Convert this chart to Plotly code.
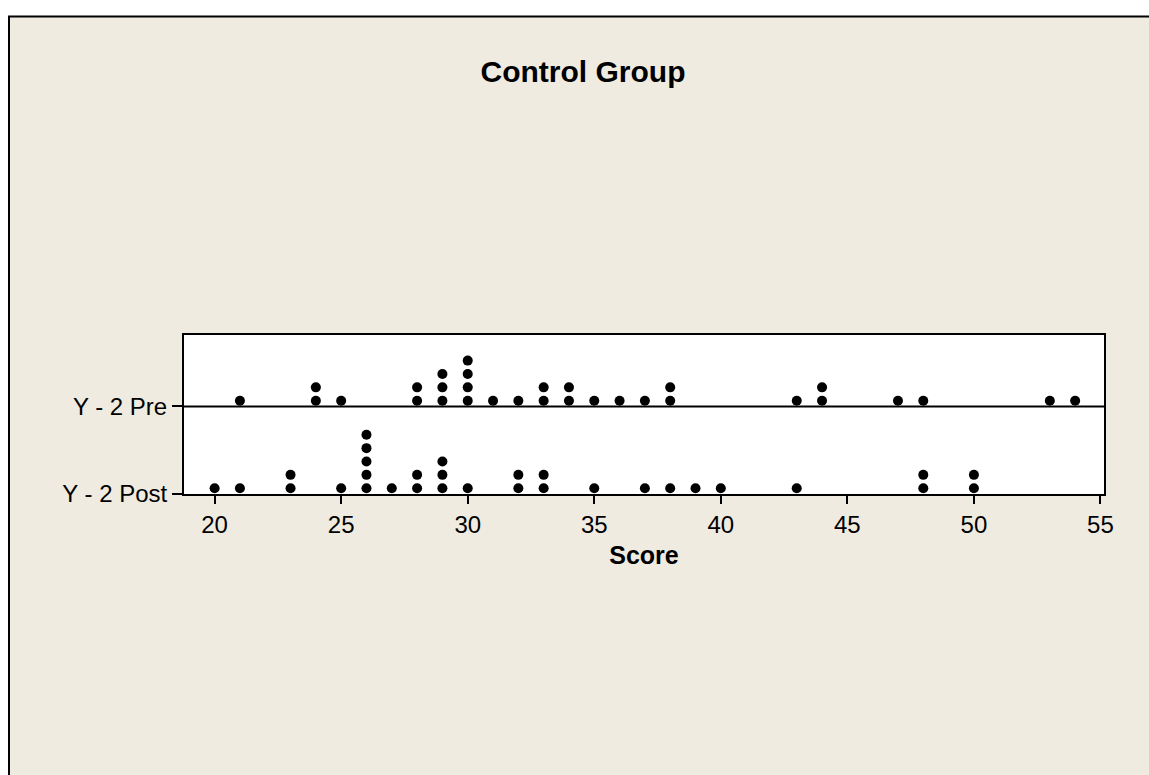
import plotly.graph_objects as go
from collections import Counter

# ---- data (each entry is one observation) ----
pre_scores = [21, 24, 24, 25, 28, 28, 29, 29, 29, 30, 30, 30, 30, 31, 32,
              33, 33, 34, 34, 35, 36, 37, 38, 38, 43, 44, 44, 47, 48, 53, 54]
post_scores = [20, 21, 23, 23, 25, 26, 26, 26, 26, 26, 27, 28, 28, 29, 29, 29,
               30, 32, 32, 33, 33, 35, 37, 38, 39, 40, 43, 48, 48, 50, 50]
row_labels = ["Y - 2 Post", "Y - 2 Pre"]
x_ticks = [20, 25, 30, 35, 40, 45, 50, 55]

# ---- layout constants (pixels) ----
W, H = 1149, 775
L, R, T, B = 184, 45, 335, 280.5
PW, PH = W - L - R, H - T - B
ROW_BASE = {"Y - 2 Post": 0.0, "Y - 2 Pre": 87.8}
DOT_OFFSET, DOT_STEP = 5.8, 13.4
BEIGE = "#EFEBE1"
FONT = "Liberation Sans"


def px(xp):
    return (xp - L) / PW


def py(yp):
    return (H - B - yp) / PH


def stack(values, base):
    xs, ys = [], []
    seen = Counter()
    for v in sorted(values):
        xs.append(v)
        ys.append(base + DOT_OFFSET + DOT_STEP * seen[v])
        seen[v] += 1
    return xs, ys


fig = go.Figure()
for name, vals in [("Y - 2 Pre", pre_scores), ("Y - 2 Post", post_scores)]:
    xs, ys = stack(vals, ROW_BASE[name])
    fig.add_trace(go.Scatter(x=xs, y=ys, mode="markers", name=name,
                             marker=dict(color="black", size=10),
                             showlegend=False, hoverinfo="x"))

shapes = [
    # Pre baseline across plot
    dict(type="line", xref="paper", yref="y", x0=0, x1=1,
         y0=ROW_BASE["Y - 2 Pre"], y1=ROW_BASE["Y - 2 Pre"],
         line=dict(color="black", width=2)),
    # white strips outside the frame
    dict(type="rect", xref="paper", yref="paper", x0=px(-5), x1=px(W + 5),
         y0=py(15), y1=py(-5), fillcolor="white", line=dict(width=0), layer="below"),
    dict(type="rect", xref="paper", yref="paper", x0=px(-5), x1=px(8),
         y0=py(H + 5), y1=py(-5), fillcolor="white", line=dict(width=0), layer="below"),
    # frame lines
    dict(type="line", xref="paper", yref="paper", x0=px(8), x1=px(W + 5),
         y0=py(15.5), y1=py(15.5), line=dict(color="black", width=2)),
    dict(type="line", xref="paper", yref="paper", x0=px(9), x1=px(9),
         y0=py(15), y1=py(H + 5), line=dict(color="black", width=2)),
]

fig.update_layout(
    width=W, height=H,
    margin=dict(l=L, r=R, t=T, b=B, pad=0),
    paper_bgcolor=BEIGE, plot_bgcolor="white",
    font=dict(family=FONT, color="black", size=24),
    title=dict(text="<b>Control Group</b>", font=dict(size=30, family=FONT),
               x=583 / W, xref="container", xanchor="center",
               y=1 - 71.5 / H, yref="container", yanchor="middle"),
    shapes=shapes,
    showlegend=False,
)
fig.update_xaxes(range=[18.79, 55.14], tickvals=x_ticks,
                 ticktext=[str(t) for t in x_ticks],
                 ticks="outside", ticklen=8, tickwidth=2, tickcolor="black",
                 showline=True, linecolor="black", linewidth=2, mirror=True,
                 showgrid=False, zeroline=False,
                 tickfont=dict(size=24),
                 title=dict(text="<b>Score</b>", font=dict(size=25), standoff=10))
fig.update_yaxes(range=[0, PH], tickvals=[ROW_BASE[r] for r in row_labels],
                 ticktext=row_labels,
                 ticks="outside", ticklen=10, tickwidth=2, tickcolor="black",
                 showline=True, linecolor="black", linewidth=2, mirror=True,
                 showgrid=False, zeroline=False, tickfont=dict(size=24))

fig.write_html(
    "out.html",
    config={"displayModeBar": False},
    post_script="document.body.style.margin='0';document.body.style.overflow='hidden';",
)
